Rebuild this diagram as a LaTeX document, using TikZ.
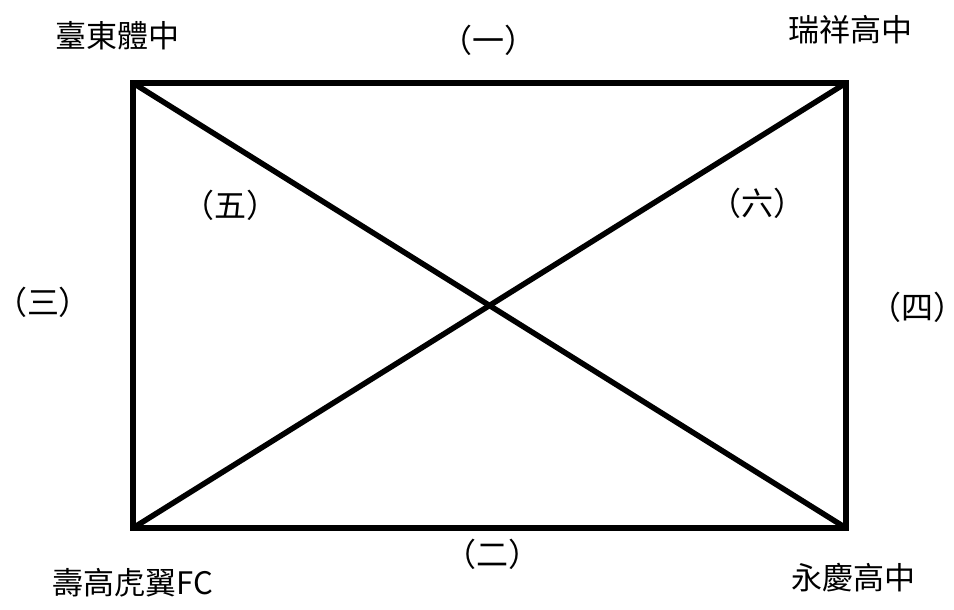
\documentclass[tikz,border=0pt]{standalone}
\usepackage{fontspec}
\setmainfont{Noto Sans CJK TC}
\newfontfamily\parlblfont[RawFeature={+halt}]{Noto Sans CJK TC}
\begin{document}
\begin{tikzpicture}[x=1pt,y=-1pt,
  lbl/.style={inner sep=0pt,font=\fontsize{31}{34}\selectfont},
  plbl/.style={inner sep=0pt,font=\parlblfont\fontsize{32}{34}\selectfont},
  edge/.style={line width=5.5pt,line join=miter}]
\useasboundingbox (0,0) rectangle (954,610);
\coordinate (TL) at (133,83);
\coordinate (TR) at (846,83);
\coordinate (BR) at (846,528);
\coordinate (BL) at (133,528);
\draw[edge] (TL) -- (TR) -- (BR) -- (BL) -- cycle;
\draw[edge] (TL) -- (BR);
\draw[edge] (TR) -- (BL);
\node[lbl] (a) at (118,36) {臺東體中};
\node[lbl] (b) at (850,30) {瑞祥高中};
\node[lbl] (c) at (133,583) {壽高虎翼FC};
\node[lbl] (d) at (853,578) {永慶高中};
\node[plbl] (e1) at (488,40) {（一）};
\node[plbl] (e2) at (492,554) {（二）};
\node[plbl] (e3) at (43,302) {（三）};
\node[plbl] (e4) at (917,307) {（四）};
\node[plbl] (e5) at (230,205) {（五）};
\node[plbl] (e6) at (757,203) {（六）};
\end{tikzpicture}
\end{document}
